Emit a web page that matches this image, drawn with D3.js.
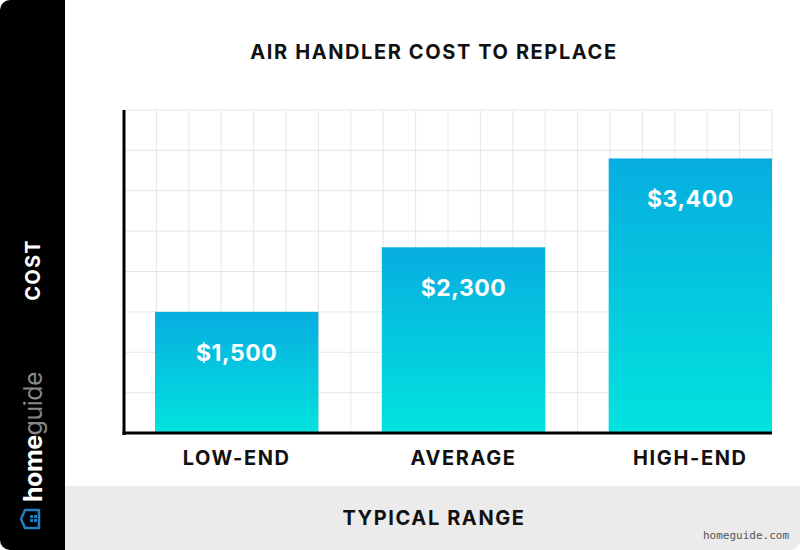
<!DOCTYPE html>
<html>
<head>
<meta charset="utf-8">
<script src="https://cdn.jsdelivr.net/npm/d3@7"></script>
<style>
  body { margin: 0; background: #fff; }
  text { font-family: Inter, "Open Sans", sans-serif; }
</style>
</head>
<body>
<div id="chartArea"></div>
<script>
const width = 800;
const height = 550;

const categories = ["LOW-END", "AVERAGE", "HIGH-END"];
const costs = [1500, 2300, 3400];
const costLabels = ["$1,500", "$2,300", "$3,400"];
const gridSteps = d3.range(0, 4001, 500);

const svg = d3.select("#chartArea").append("svg")
    .attr("width", width)
    .attr("height", height);

const defs = svg.append("defs");
const grad = defs.append("linearGradient")
    .attr("id", "barGrad")
    .attr("x1", 0).attr("y1", 0).attr("x2", 0).attr("y2", 1);
grad.append("stop").attr("offset", "0%").attr("stop-color", "#07ade0");
grad.append("stop").attr("offset", "100%").attr("stop-color", "#02e3de");

defs.append("clipPath").attr("id", "card")
    .append("rect").attr("width", width).attr("height", height).attr("rx", 10);

const card = svg.append("g").attr("clip-path", "url(#card)");
card.append("rect").attr("width", width).attr("height", height).attr("fill", "#fff");

// left black panel and bottom band
card.append("rect").attr("x", 0).attr("y", 0).attr("width", 65).attr("height", height).attr("fill", "#000");
card.append("rect").attr("x", 65).attr("y", 486).attr("width", width - 65).attr("height", 64).attr("fill", "#ebebeb");

// chart area
const plotLeft = 124, plotRight = 772, plotTop = 110, plotBottom = 433;

const x = d3.scaleBand()
    .domain(categories)
    .range([155, plotRight])
    .paddingInner(0.28)
    .paddingOuter(0);

const y = d3.scaleLinear()
    .domain([0, 4000])
    .range([plotBottom, plotTop]);

const xGrid = d3.scaleLinear().domain([0, 20]).range([plotLeft, plotRight]);

const grid = card.append("g");
grid.selectAll("line.h")
    .data(gridSteps.slice(1))
    .enter().append("line")
    .attr("x1", plotLeft).attr("x2", plotRight)
    .attr("y1", d => y(d)).attr("y2", d => y(d))
    .attr("stroke", "#e6e6e6").attr("stroke-width", 1);
grid.selectAll("line.v")
    .data(d3.range(1, 21))
    .enter().append("line")
    .attr("x1", d => xGrid(d)).attr("x2", d => xGrid(d))
    .attr("y1", plotTop).attr("y2", plotBottom)
    .attr("stroke", "#e6e6e6").attr("stroke-width", 1);

card.selectAll("rect.bar")
    .data(categories)
    .enter().append("rect")
    .attr("class", "bar")
    .attr("x", d => x(d))
    .attr("width", x.bandwidth())
    .attr("y", (d, i) => y(costs[i]))
    .attr("height", (d, i) => plotBottom - y(costs[i]))
    .attr("fill", "url(#barGrad)");

card.selectAll("text.val")
    .data(categories)
    .enter().append("text")
    .attr("x", d => x(d) + x.bandwidth() / 2)
    .attr("y", (d, i) => y(costs[i]) + 49)
    .attr("text-anchor", "middle")
    .attr("fill", "#fff")
    .attr("font-size", 23)
    .attr("font-weight", 700)
    .attr("letter-spacing", 0.5)
    .text((d, i) => costLabels[i]);

// axes lines
card.append("line").attr("x1", plotLeft).attr("x2", plotLeft).attr("y1", plotTop).attr("y2", plotBottom + 2)
    .attr("stroke", "#000").attr("stroke-width", 3);
card.append("line").attr("x1", plotLeft - 1.5).attr("x2", plotRight).attr("y1", plotBottom).attr("y2", plotBottom)
    .attr("stroke", "#000").attr("stroke-width", 3);

card.selectAll("text.cat")
    .data(categories)
    .enter().append("text")
    .attr("x", d => x(d) + x.bandwidth() / 2)
    .attr("y", 465)
    .attr("text-anchor", "middle")
    .attr("fill", "#111")
    .attr("font-size", 20)
    .attr("font-weight", 700)
    .attr("letter-spacing", 1.6)
    .text(d => d);

card.append("text")
    .attr("x", 434).attr("y", 59)
    .attr("text-anchor", "middle")
    .attr("font-size", 20).attr("font-weight", 700)
    .attr("letter-spacing", 1.6)
    .attr("fill", "#111")
    .text("AIR HANDLER COST TO REPLACE");

card.append("text")
    .attr("x", 434).attr("y", 525)
    .attr("text-anchor", "middle")
    .attr("font-size", 20).attr("font-weight", 700)
    .attr("letter-spacing", 1.6)
    .attr("fill", "#111")
    .text("TYPICAL RANGE");

card.append("text")
    .attr("transform", "translate(40,270) rotate(-90)")
    .attr("text-anchor", "middle")
    .attr("font-size", 20).attr("font-weight", 700)
    .attr("letter-spacing", 1.2)
    .attr("fill", "#fff")
    .text("COST");

// logo
card.append("text")
    .attr("transform", "translate(42,502) rotate(-90)")
    .attr("text-anchor", "start")
    .attr("font-size", 25)
    .attr("letter-spacing", -0.5)
    .selectAll("tspan")
    .data([["home", 700, "#fff"], ["guide", 400, "#888"]])
    .enter().append("tspan")
    .attr("font-weight", d => d[1])
    .attr("fill", d => d[2])
    .text(d => d[0]);

const logo = card.append("g").attr("transform", "translate(33,519)");
logo.append("path")
    .attr("d", "M-8,-9 L6,-9 L6,9 L-8,9 L-12,0 Z")
    .attr("fill", "none")
    .attr("stroke", "#1f7fc1")
    .attr("stroke-width", 2.5)
    .attr("stroke-linejoin", "round");
logo.selectAll("rect")
    .data([[-3, -4], [1, -4], [-3, 0], [1, 0]])
    .enter().append("rect")
    .attr("x", d => d[0]).attr("y", d => d[1])
    .attr("width", 3).attr("height", 3)
    .attr("fill", "#1f7fc1");

card.append("text")
    .attr("x", 789).attr("y", 539)
    .attr("text-anchor", "end")
    .style("font-family", "'DejaVu Sans Mono', monospace")
    .attr("font-size", 11)
    .attr("fill", "#555")
    .text("homeguide.com");
</script>
</body>
</html>
